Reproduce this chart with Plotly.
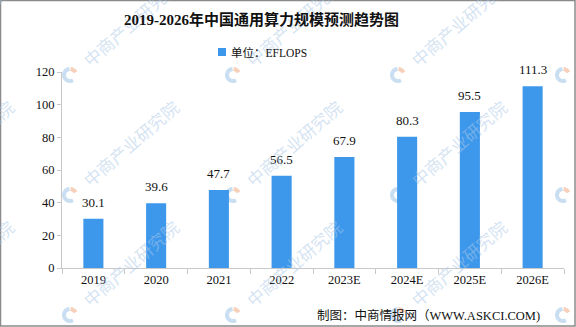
import math
import plotly.graph_objects as go

# Data
years = ["2019", "2020", "2021", "2022", "2023E", "2024E", "2025E", "2026E"]
compute_eflops = [30.1, 39.6, 47.7, 56.5, 67.9, 80.3, 95.5, 111.3]
y_ticks = [0, 20, 40, 60, 80, 100, 120]
unit_label = "单位：EFLOPS"

W, H = 576, 327
ML, MR, MT, MB = 62, 12, 72, 59
PW, PH = W - ML - MR, H - MT - MB

BAR = "#3d98ec"
SERIF = "Liberation Serif, Noto Sans CJK SC, serif"


def px_to_paper(px, py):
    return (px - ML) / PW, (H - MB - py) / PH


def arc_path(cx, cy, r, a0, a1, n=24):
    """Polyline arc in pixel space, returned as an SVG path in paper units."""
    pts = []
    for k in range(n + 1):
        a = math.radians(a0 + (a1 - a0) * k / n)
        pts.append(px_to_paper(cx + r * math.cos(a), cy - r * math.sin(a)))
    return "M" + " L".join(f"{x:.5f},{y:.5f}" for x, y in pts)


fig = go.Figure()
fig.add_trace(go.Bar(
    x=years, y=compute_eflops, name=unit_label, showlegend=False,
    marker=dict(color=BAR, line=dict(width=0)), width=0.32,
))

annotations = []
shapes = []

# value labels above bars (x given as category index)
for i, v in enumerate(compute_eflops):
    annotations.append(dict(
        x=i, y=v, xref="x", yref="y", text=f"{v:.1f}", showarrow=False,
        yanchor="bottom", yshift=7, font=dict(family=SERIF, size=13, color="#111"),
    ))

# watermark grid: logo ring + rotated name
for lx in [-95, 70, 233, 398, 563]:
    for ly in [-45, 75, 195, 315]:
        cx, cy = px_to_paper(lx + 60, ly - 52)
        annotations.append(dict(
            x=cx, y=cy, xref="paper", yref="paper", text="中商产业研究院",
            showarrow=False, textangle=-41, xanchor="center", yanchor="middle",
            font=dict(family="Noto Sans CJK SC", size=17, color="rgba(170,200,230,0.5)"),
        ))
        shapes.append(dict(type="path", xref="paper", yref="paper",
                           path=arc_path(lx, ly, 6, 95, 300),
                           line=dict(color="rgba(150,190,230,0.5)", width=4),
                           layer="below"))
        shapes.append(dict(type="path", xref="paper", yref="paper",
                           path=arc_path(lx, ly, 6, 25, 85),
                           line=dict(color="rgba(240,170,130,0.55)", width=4),
                           layer="below"))

# title
tx, ty = px_to_paper(261, 20)
annotations.append(dict(x=tx, y=ty, xref="paper", yref="paper",
                        text="<b>2019-2026年中国通用算力规模预测趋势图</b>",
                        showarrow=False, xanchor="center", yanchor="middle",
                        font=dict(family=SERIF, size=15, color="#111")))

# legend: swatch + unit text
sq0 = px_to_paper(218, 56)
sq1 = px_to_paper(226, 48)
shapes.append(dict(type="rect", xref="paper", yref="paper",
                   x0=sq0[0], y0=sq0[1], x1=sq1[0], y1=sq1[1],
                   fillcolor=BAR, line=dict(width=0)))
lgx, lgy = px_to_paper(229, 52)
annotations.append(dict(x=lgx, y=lgy, xref="paper", yref="paper",
                        text=unit_label, showarrow=False,
                        xanchor="left", yanchor="middle",
                        font=dict(family=SERIF, size=11.5, color="#111")))

# source note
sx, sy = px_to_paper(542, 315)
annotations.append(dict(x=sx, y=sy, xref="paper", yref="paper",
                        text="制图：中商情报网（WWW.ASKCI.COM)",
                        showarrow=False, xanchor="right", yanchor="middle",
                        font=dict(family=SERIF, size=12.5, color="#111")))

# outer frame
fx0, fy0 = px_to_paper(0.5, H - 1)
fx1, fy1 = px_to_paper(W - 1, 0.5)
shapes.append(dict(type="rect", xref="paper", yref="paper",
                   x0=fx0, x1=fx1, y0=fy0, y1=fy1,
                   line=dict(color="#8a8a8a", width=1.5)))

fig.update_layout(
    width=W, height=H,
    margin=dict(l=ML, r=MR, t=MT, b=MB),
    paper_bgcolor="white", plot_bgcolor="rgba(0,0,0,0)",
    showlegend=False,
    xaxis=dict(type="category", categoryorder="array", categoryarray=years,
               range=[-0.5, len(years) - 0.5], autorange=False,
               showline=True, linecolor="#c8c8c8", linewidth=1,
               ticks="outside", tickson="boundaries", ticklen=5, tickcolor="#c8c8c8",
               tickfont=dict(family=SERIF, size=12.5, color="#111"),
               showgrid=False, zeroline=False, tickangle=0),
    yaxis=dict(range=[0, 120], autorange=False, tickvals=y_ticks, showline=True,
               linecolor="#c8c8c8",
               linewidth=1, ticks="outside", ticklen=4, tickcolor="#c8c8c8",
               tickfont=dict(family=SERIF, size=12.5, color="#111"),
               showgrid=False, zeroline=False),
    annotations=annotations, shapes=shapes,
)

fig.write_html("out.html")
